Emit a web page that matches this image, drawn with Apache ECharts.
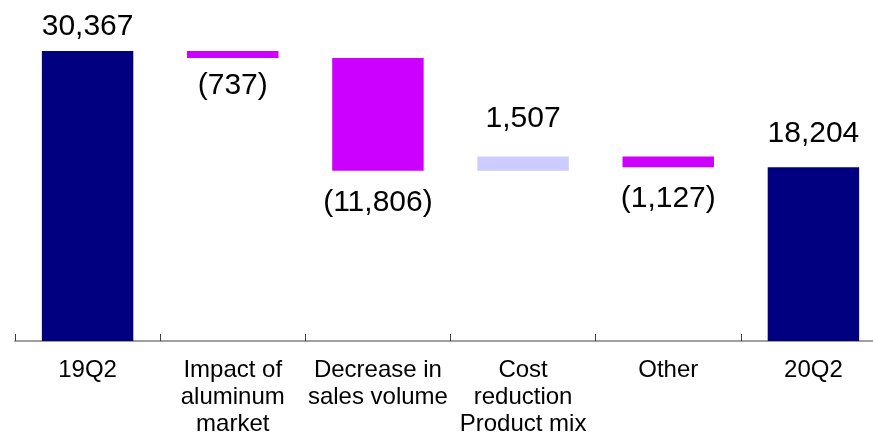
<!DOCTYPE html>
<html>
<head>
<meta charset="utf-8">
<script src="https://cdn.jsdelivr.net/npm/echarts@6/dist/echarts.min.js"></script>
<style>html,body{margin:0;padding:0;background:#fff;}#c{width:873px;height:435px;}</style>
</head>
<body>
<div id="c"></div>
<script>
var categories = ['19Q2', 'Impact of\naluminum\nmarket', 'Decrease in\nsales volume', 'Cost\nreduction\nProduct mix', 'Other', '20Q2'];
var changes = [30367, -737, -11806, 1507, -1127, 18204];
var isTotal = [true, false, false, false, false, true];

var NAVY = '#000080', NEG = '#CC00FF', POS = '#CCCCFF';

function fmt(v) {
  var s = String(Math.abs(v)).replace(/\B(?=(\d{3})+(?!\d))/g, ',');
  return v < 0 ? '(' + s + ')' : s;
}

// label gap per bar (layout only)
var labelGap = [9, 13, 17, 23, 17, 18];

var baseData = [], valData = [];
var running = 0;
for (var i = 0; i < changes.length; i++) {
  var v = changes[i];
  if (isTotal[i]) {
    running = v;
    baseData.push(0);
    valData.push({ value: v, itemStyle: { color: NAVY }, label: { position: 'top', distance: labelGap[i] } });
  } else if (v >= 0) {
    baseData.push(running);
    running += v;
    valData.push({ value: v, itemStyle: { color: POS }, label: { position: 'top', distance: labelGap[i] } });
  } else {
    running += v;
    baseData.push(running);
    valData.push({ value: -v, itemStyle: { color: NEG }, label: { position: 'bottom', distance: labelGap[i] } });
  }
}

var chart = echarts.init(document.getElementById('c'), null, { renderer: 'canvas' });
chart.setOption({
  animation: false,
  grid: { left: 15, width: 871, top: 51, bottom: 94, containLabel: false, outerBoundsMode: 'none' },
  xAxis: {
    type: 'category',
    data: categories,
    axisLine: { lineStyle: { color: '#808080', width: 1.5 } },
    axisTick: { show: true, inside: true, length: 7, lineStyle: { color: '#404040' } },
    axisLabel: { color: '#000', fontFamily: 'Liberation Sans, Arial', fontSize: 24, lineHeight: 27, margin: 16, interval: 0 }
  },
  yAxis: { type: 'value', min: 0, max: 30367, show: false, splitLine: { show: false } },
  series: [
    { type: 'bar', stack: 'w', data: baseData, itemStyle: { color: 'transparent' }, barWidth: '63%', silent: true },
    {
      type: 'bar', stack: 'w', data: valData, barWidth: '63%',
      label: {
        show: true, color: '#000', fontFamily: 'Liberation Sans, Arial', fontSize: 30,
        formatter: function (p) { return fmt(changes[p.dataIndex]); }
      }
    }
  ]
});
</script>
</body>
</html>
